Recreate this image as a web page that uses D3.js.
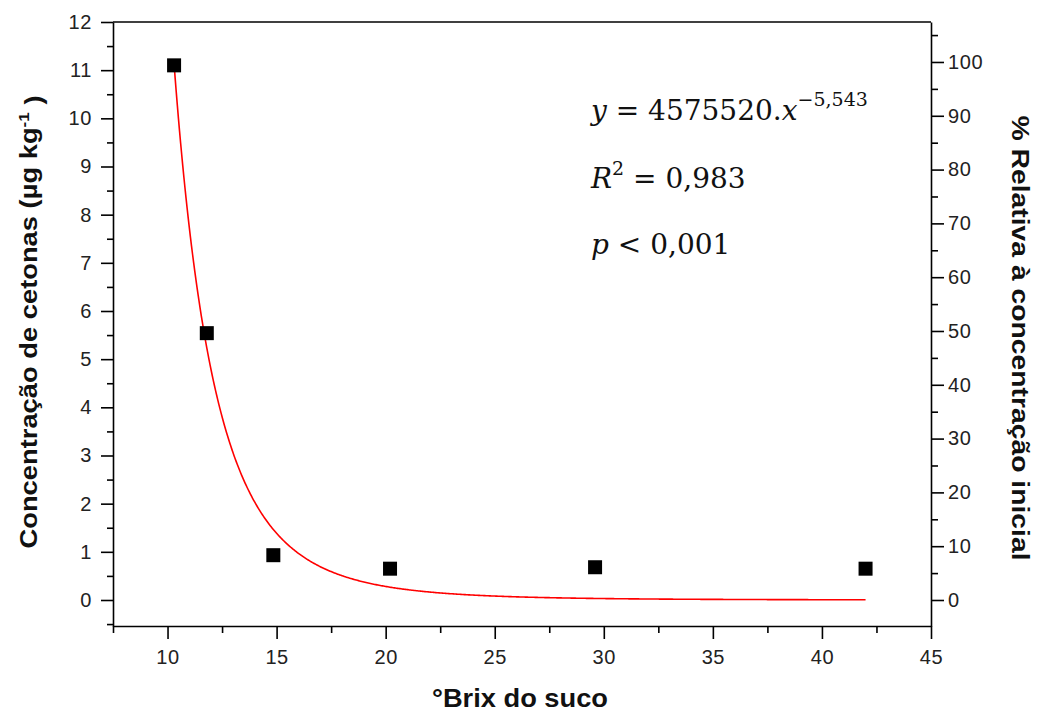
<!DOCTYPE html>
<html><head><meta charset="utf-8">
<script src="https://cdn.jsdelivr.net/npm/d3@7"></script>
<style>
body{margin:0;background:#fff;}
svg text{font-family:"Liberation Sans",Arial,sans-serif;}
</style></head>
<body><svg id="c" width="1038" height="714"></svg>
<script>
// Data
const brix = [10.3, 11.8, 14.85, 20.2, 29.6, 42.0];
const cetonas = [11.1, 5.54, 0.93, 0.65, 0.68, 0.65];
const fitA = 4575520;
const fitB = -5.543;
const fitRange = [10.3, 42.0];
const xTicks = [10, 15, 20, 25, 30, 35, 40, 45];
const yTicks = [0,1,2,3,4,5,6,7,8,9,10,11,12];
const rTicks = [0,10,20,30,40,50,60,70,80,90,100];

const svg = d3.select("#c");
const L = 113, R = 931, T = 22, B = 626;
const x = d3.scaleLinear().domain([7.5, 45]).range([L, R]);
const y = d3.scaleLinear().domain([-0.54, 12]).range([B, T]);
const y0 = y(0), y100 = y(11.17);
const yr = d3.scaleLinear().domain([0, 100]).range([y0, y100]);
const yrTop = yr.invert(T), yrBot = yr.invert(B);
yr.domain([yrBot, yrTop]).range([B, T]);

// frame
svg.append("line").attr("x1", L).attr("x2", R).attr("y1", T).attr("y2", T).attr("stroke", "#000").attr("stroke-width", 1.6);

function styleAxis(g){
  g.selectAll("path").attr("stroke", "#000").attr("stroke-width", 1.6);
  g.selectAll("line").attr("stroke", "#000").attr("stroke-width", 1.6);
  g.selectAll("text").attr("fill", "#222").style("font-size", "20px").style("letter-spacing", "0.6px").style("font-family", "Liberation Sans, Arial, sans-serif");
}

// minor ticks
const xMinor = d3.range(7.5, 45.01, 2.5).filter(v => Math.abs(v % 5) > 0.01);
const yMinor = d3.range(-0.5, 12, 0.5).filter(v => Math.abs(v % 1) > 0.01);
const rMinor = d3.range(5, 106, 10);

// x axis
const gx = svg.append("g").attr("transform", `translate(0,${B})`)
  .call(d3.axisBottom(x).tickValues(xTicks).tickSize(13).tickPadding(7).tickSizeOuter(0));
svg.append("g").attr("transform", `translate(0,${B})`)
  .call(d3.axisBottom(x).tickValues(xMinor).tickSize(7).tickFormat("").tickSizeOuter(0))
  .call(g => { g.select("path").remove(); g.selectAll("line").attr("stroke", "#000").attr("stroke-width", 1.6); });
styleAxis(gx);
gx.selectAll("text").attr("dy", "0.9em");

// left axis
const gy = svg.append("g").attr("transform", `translate(${L},0)`)
  .call(d3.axisLeft(y).tickValues(yTicks).tickSize(12).tickPadding(9).tickSizeOuter(0));
svg.append("g").attr("transform", `translate(${L},0)`)
  .call(d3.axisLeft(y).tickValues(yMinor).tickSize(6).tickFormat("").tickSizeOuter(0))
  .call(g => { g.select("path").remove(); g.selectAll("line").attr("stroke", "#000").attr("stroke-width", 1.6); });
styleAxis(gy);

// right axis
const gr = svg.append("g").attr("transform", `translate(${R},0)`)
  .call(d3.axisRight(yr).tickValues(rTicks).tickSize(13).tickPadding(4).tickSizeOuter(0));
svg.append("g").attr("transform", `translate(${R},0)`)
  .call(d3.axisRight(yr).tickValues(rMinor).tickSize(7).tickFormat("").tickSizeOuter(0))
  .call(g => { g.select("path").remove(); g.selectAll("line").attr("stroke", "#000").attr("stroke-width", 1.6); });
styleAxis(gr);

// fit curve
const xs = d3.range(fitRange[0], fitRange[1] + 0.001, 0.05);
const line = d3.line().x(d => x(d)).y(d => y(fitA * Math.pow(d, fitB)));
svg.append("path").datum(xs).attr("d", line).attr("fill", "none").attr("stroke", "#ff0000").attr("stroke-width", 1.6);

// points
const s = 14;
svg.selectAll("rect.pt").data(brix).join("rect").attr("class", "pt")
  .attr("x", (d) => x(d) - s/2).attr("y", (d, i) => y(cetonas[i]) - s/2)
  .attr("width", s).attr("height", s).attr("fill", "#000");

// titles
svg.append("text").attr("x", 520).attr("y", 707).attr("text-anchor", "middle")
  .attr("textLength", 176).attr("lengthAdjust", "spacingAndGlyphs")
  .style("font-size", "25px").style("font-weight", "bold").attr("fill", "#111").text("°Brix do suco");

const lt = svg.append("text").attr("transform", `translate(37,${322}) rotate(-90)`).attr("text-anchor", "middle")
  .attr("textLength", 453).attr("lengthAdjust", "spacingAndGlyphs")
  .style("font-size", "24px").style("font-weight", "bold").attr("fill", "#111");
lt.append("tspan").text("Concentração de cetonas (µg kg");
lt.append("tspan").attr("dy", "-0.55em").style("font-size", "15px").text("-1");
lt.append("tspan").attr("dy", "0.55em").text(" )");

svg.append("text").attr("transform", `translate(1012,${338}) rotate(90)`).attr("text-anchor", "middle")
  .attr("textLength", 445).attr("lengthAdjust", "spacingAndGlyphs")
  .style("font-size", "24px").style("font-weight", "bold").attr("fill", "#111").text("% Relativa à concentração inicial");

// equation
const ef = "DejaVu Serif, serif";
const e1 = svg.append("text").attr("x", 591).attr("y", 120).style("font-family", ef).style("font-size", "28px").attr("fill", "#111");
e1.append("tspan").style("font-style", "italic").text("y");
e1.append("tspan").text(" = " + fitA + ".");
e1.append("tspan").style("font-style", "italic").text("x");
e1.append("tspan").attr("dy", -14).style("font-size", "19px").text("−" + String(Math.abs(fitB)).replace(".", ","));

const e2 = svg.append("text").attr("x", 591).attr("y", 188).style("font-family", ef).style("font-size", "28px").attr("fill", "#111");
e2.append("tspan").style("font-style", "italic").text("R");
e2.append("tspan").attr("dy", -13).style("font-size", "19px").text("2");
e2.append("tspan").attr("dy", 13).text(" = 0,983");

const e3 = svg.append("text").attr("x", 591).attr("y", 254).style("font-family", ef).style("font-size", "28px").attr("fill", "#111");
e3.append("tspan").style("font-style", "italic").text("p");
e3.append("tspan").text(" < 0,001");
</script></body></html>
